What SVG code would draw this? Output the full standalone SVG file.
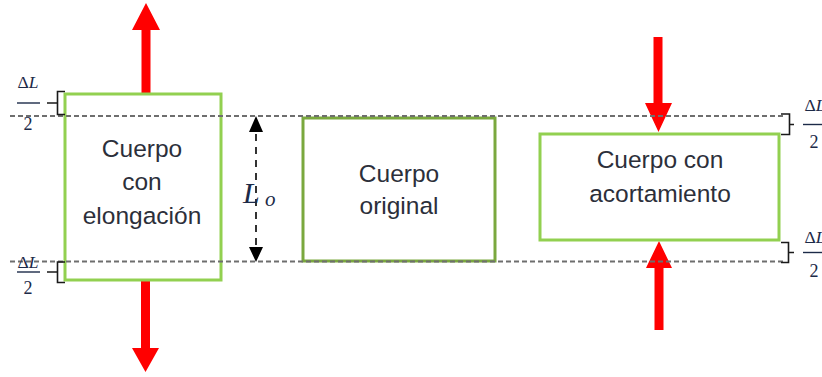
<svg xmlns="http://www.w3.org/2000/svg" width="822" height="377" viewBox="0 0 822 377">
<style>
.guide{stroke:#6e6e6e;stroke-width:2;stroke-dasharray:5 3;fill:none}
.box{fill:none;stroke:#92d050;stroke-width:3}
.box2{fill:none;stroke:#7aa83e;stroke-width:3}
.lbl{font-family:"Liberation Sans",Arial,sans-serif;font-size:24.5px;fill:#2c2f3a;text-anchor:middle}
.force{fill:#ff0000}
.brace{fill:none;stroke:#1a1a1a;stroke-width:1.6}
.math{font-family:"Liberation Serif","DejaVu Serif",serif;fill:#1c2a48}
.dim{stroke:#000;stroke-width:1.6;stroke-dasharray:7 6;fill:none}
</style>
<rect width="822" height="377" fill="#fff"/>
<g id="connectors">
<path class="force" d="M141.5,95 V30 H132 L146,3 L160,30 H150.5 V95 Z"/>
<path class="force" d="M141,279 V348 H132 L145.5,372 L159,348 H150 V279 Z"/>
<path class="force" d="M653.5,37 V103 H645 L658.5,132 L672,103 H662.5 V37 Z"/>
<path class="force" d="M654.5,330 V268 H646 L659,241 L672,268 H663.5 V330 Z"/>
</g>
<g id="elongated">
<rect class="box" x="65" y="94" width="156" height="186"/>
<text class="lbl" x="142" y="157">Cuerpo</text>
<text class="lbl" x="142" y="190">con</text>
<text class="lbl" x="142" y="224">elongación</text>
</g>
<g id="original">
<rect class="box2" x="303" y="118" width="192" height="143"/>
<text class="lbl" x="399" y="182">Cuerpo</text>
<text class="lbl" x="399" y="214">original</text>
</g>
<g id="shortened">
<rect class="box" x="540" y="134" width="239" height="106"/>
<text class="lbl" x="660" y="168">Cuerpo con</text>
<text class="lbl" x="660" y="202">acortamiento</text>
</g>
<g id="guides">
<line class="guide" x1="10" y1="116" x2="786" y2="116"/>
<line class="guide" x1="10" y1="261.5" x2="786" y2="261.5"/>
</g>
<g id="length">
<line class="dim" x1="256" y1="134" x2="256" y2="246"/>
<path d="M256,116 L249,132 H263 Z M256,262 L249,247 H263 Z" fill="#000"/>
<text class="math" x="243" y="203" font-size="30" font-style="italic">L</text>
<text class="math" x="265" y="206" font-size="21" font-style="italic">o</text>
</g>
<g id="delta-left-top">
<path class="brace" d="M65,91.5 H57.5 V114.5 H65 M57.5,103 H47"/>
<text class="math" x="28" y="88" font-size="17.5" text-anchor="middle">Δ<tspan font-style="italic">L</tspan></text>
<line x1="17" y1="103" x2="40" y2="103" stroke="#1c2a48" stroke-width="1.4"/>
<text class="math" x="28" y="130" font-size="18" text-anchor="middle">2</text>
</g>
<g id="delta-left-bottom">
<path class="brace" d="M65,262 H57.5 V282.5 H65 M57.5,272 H47"/>
<text class="math" x="28" y="268" font-size="17.5" text-anchor="middle">Δ<tspan font-style="italic">L</tspan></text>
<line x1="17" y1="272" x2="40" y2="272" stroke="#1c2a48" stroke-width="1.4"/>
<text class="math" x="28" y="294" font-size="18" text-anchor="middle">2</text>
</g>
<g id="delta-right-top">
<path class="brace" d="M781,114 H789.5 V134.5 H781 M789.5,124.5 H794"/>
<text class="math" x="815" y="111" font-size="17.5" text-anchor="middle">Δ<tspan font-style="italic">L</tspan></text>
<line x1="803" y1="124.5" x2="826" y2="124.5" stroke="#1c2a48" stroke-width="1.4"/>
<text class="math" x="814" y="148" font-size="18" text-anchor="middle">2</text>
</g>
<g id="delta-right-bottom">
<path class="brace" d="M781,242.5 H788.5 V262.5 H781 M788.5,252.5 H794"/>
<text class="math" x="815" y="243" font-size="17.5" text-anchor="middle">Δ<tspan font-style="italic">L</tspan></text>
<line x1="803" y1="252.5" x2="826" y2="252.5" stroke="#1c2a48" stroke-width="1.4"/>
<text class="math" x="814" y="277" font-size="18" text-anchor="middle">2</text>
</g>
</svg>
